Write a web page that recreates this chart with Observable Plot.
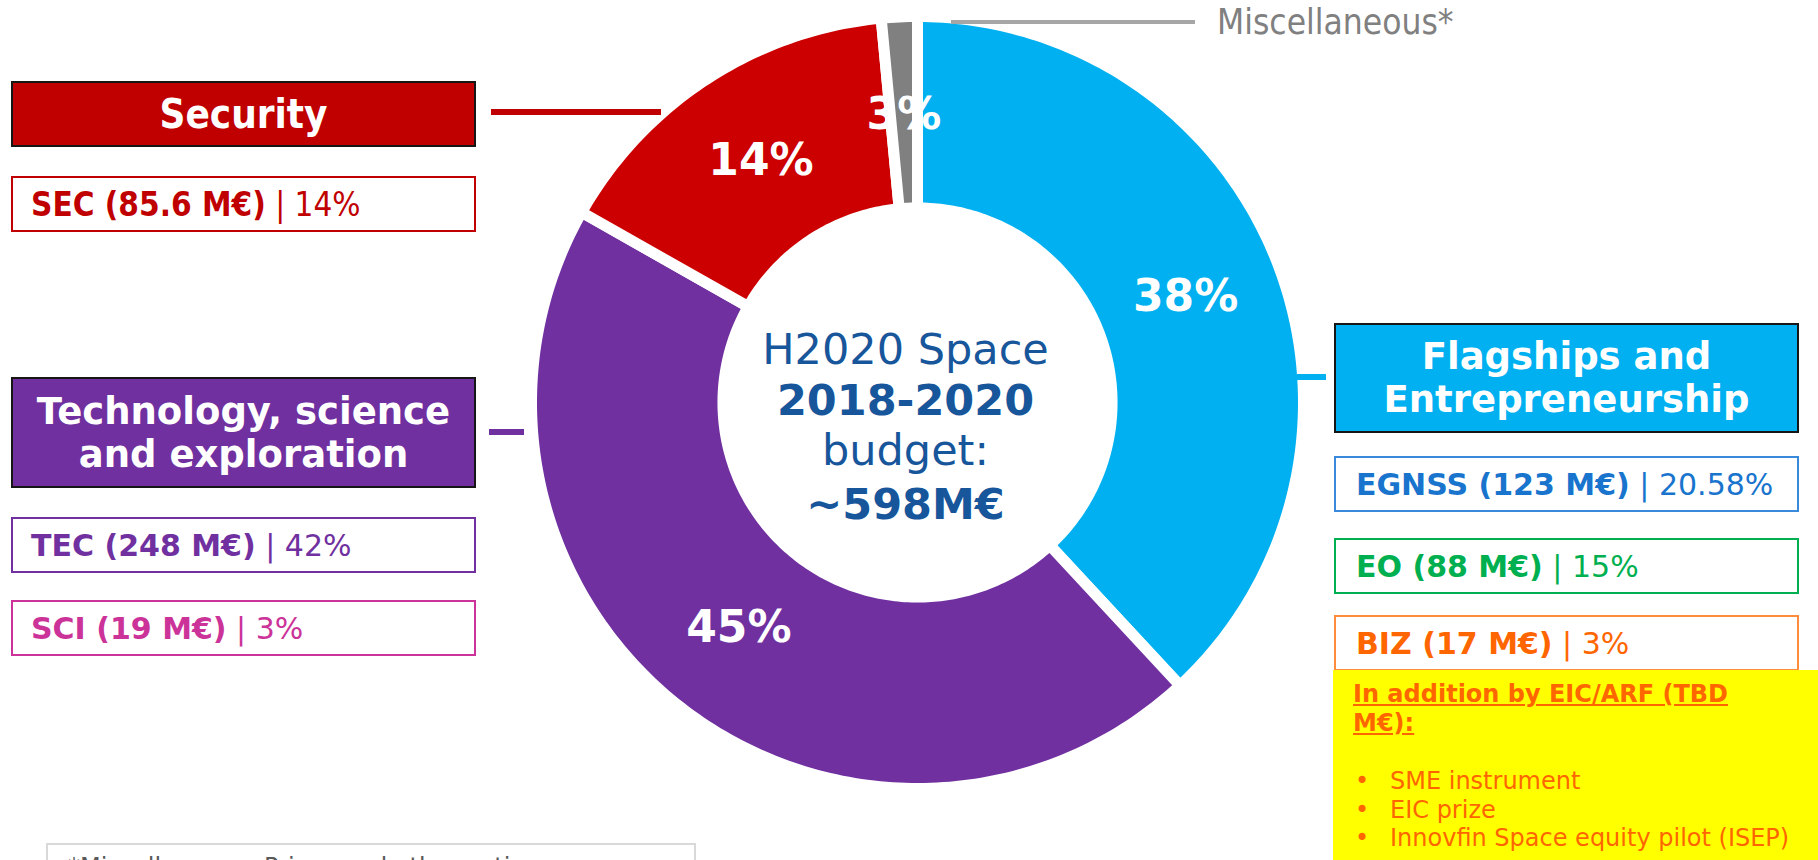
<!DOCTYPE html>
<html><head><meta charset="utf-8">
<script src="https://cdn.jsdelivr.net/npm/d3@7"></script>
<script src="https://cdn.jsdelivr.net/npm/@observablehq/plot@0.6"></script>
<style>
html,body{margin:0;padding:0;background:#fff;}
#page{position:relative;width:1818px;height:860px;overflow:hidden;font-family:"DejaVu Sans",Verdana,sans-serif;}
#chart{position:absolute;left:0;top:0;}
.box{position:absolute;box-sizing:border-box;}
.title{display:flex;align-items:center;justify-content:center;text-align:center;color:#fff;font-weight:bold;border:2px solid #161616;}
.item{display:flex;align-items:center;background:#fff;border:2px solid;white-space:nowrap;font-size:30px;}
.cond{font-family:"DejaVu Sans Condensed","DejaVu Sans",Tahoma,sans-serif;font-stretch:condensed;}
.conn{position:absolute;}
.yellow{background:#FFFF00;color:#FF6600;font-size:24px;line-height:29px;padding:10px 0 0 20px;}
.yellow .hd{font-weight:bold;text-decoration:underline;}
.yellow .bl{position:relative;padding-left:37px;line-height:28.5px;}
.yellow .bl span{position:absolute;left:2px;}
.foot{border:2px solid #D9D9D9;font-size:24px;color:#595959;padding:8px 0 0 20px;}
</style></head><body><div id="page"><div id="chart"></div></div>
<script>
// ---- data ----
const slices = ["Flagships and Entrepreneurship", "Technology, science and exploration", "Security", "Miscellaneous"];
const shares = [38.1, 45.1, 15.3, 1.5];          // angular share
const shareLabels = ["38%", "45%", "14%", "3%"];
const sliceColors = ["#00B0F0", "#7030A0", "#CC0000", "#808080"];
const centerLines = ["H2020 Space", "2018-2020", "budget:", "~598M€"];
const secCodes = ["SEC"], secBudgets = ["85.6"], secShares = ["14%"];
const tecCodes = ["TEC", "SCI"], tecBudgets = ["248", "19"], tecShares = ["42%", "3%"];
const flagCodes = ["EGNSS", "EO", "BIZ"], flagBudgets = ["123", "88", "17"], flagShares = ["20.58%", "15%", "3%"];
const eicHeader = ["In addition by EIC/ARF (TBD", "M€):"];
const eicItems = ["SME instrument", "EIC prize", "Innovfin Space equity pilot (ISEP)"];
const footnote = "*Miscellaneous: Prizes and other actions";

// ---- layout ----
const cx = 917, cy = 402, R = 386, INNER = 0.504, LABEL_R = 0.746, GAP = 11;
const centerDy = [-52, -1, 49, 103];
const centerWeights = ["normal", "bold", "normal", "bold"];

const arcs = d3.pie().sort(null).value(d => d)(shares);
const ringPts = arcs.flatMap((a, i) => {
  const n = Math.max(8, Math.ceil((a.endAngle - a.startAngle) * 60));
  const ts = d3.range(n + 1).map(k => a.startAngle + (a.endAngle - a.startAngle) * k / n);
  return [
    ...ts.map(t => ({name: slices[i], x: Math.sin(t), y: Math.cos(t)})),
    ...ts.slice().reverse().map(t => ({name: slices[i], x: INNER * Math.sin(t), y: INNER * Math.cos(t)}))
  ];
});
const labelPts = arcs.map((a, i) => {
  const m = (a.startAngle + a.endAngle) / 2;
  return {label: shareLabels[i], x: LABEL_R * Math.sin(m), y: LABEL_R * Math.cos(m)};
});

const chart = Plot.plot({
  width: 1818, height: 860, margin: 0,
  x: {domain: [-1, 1], range: [cx - R, cx + R], axis: null},
  y: {domain: [-1, 1], range: [cy + R, cy - R], axis: null},
  color: {domain: slices, range: sliceColors},
  style: {background: "transparent", fontFamily: "'DejaVu Sans', Verdana, sans-serif", overflow: "visible"},
  marks: [
    Plot.line(ringPts, {x: "x", y: "y", z: "name", fill: "name", stroke: "white", strokeWidth: GAP, curve: "linear-closed", strokeLinejoin: "round"}),
    Plot.text(labelPts, {x: "x", y: "y", text: "label", fill: "white", fontSize: 44, fontWeight: "bold"}),
    ...centerLines.map((t, i) => Plot.text([t], {x: () => 0, y: () => 0, text: d => d, dx: -12, dy: centerDy[i], fontSize: 43, fontWeight: centerWeights[i], fill: "#17569B"}))
  ]
});
document.getElementById("chart").appendChild(chart);

// ---- annotation boxes ----
const page = document.getElementById("page");
function add(cls, style, html) {
  const d = document.createElement("div");
  d.className = cls;
  Object.assign(d.style, style);
  d.innerHTML = html;
  page.appendChild(d);
  return d;
}
const px = v => v + "px";
function box(cls, l, t, w, h, extra, html) {
  return add(cls, Object.assign({left: px(l), top: px(t), width: px(w), height: px(h)}, extra), html);
}
// connectors
box("conn", 491, 109, 170, 6, {background: "#C00000"}, "");
box("conn", 489, 429, 35, 6, {background: "#7030A0"}, "");
box("conn", 1297, 374, 29, 6, {background: "#00B0F0"}, "");
box("conn", 951, 20, 244, 4, {background: "#A6A6A6"}, "");
add("box cond", {left: "1217px", top: "4px", fontSize: "35px", lineHeight: "36px", color: "#808080"}, "Miscellaneous*");

// titles
box("box title cond", 11, 81, 465, 66, {background: "#C00000", fontSize: "40px"}, "Security");
box("box title", 11, 377, 465, 111, {background: "#7030A0", fontSize: "37px", lineHeight: "43px"}, "Technology, science<br>and exploration");
box("box title", 1334, 323, 465, 110, {background: "#00B0F0", fontSize: "37px", lineHeight: "43px"}, "Flagships and<br>Entrepreneurship");

// items
const itemHtml = (c, b, s) => `<b>${c} (${b} M€)</b>&nbsp;| ${s}`;
const secTops = [176];
secCodes.forEach((c, i) => box("box item cond", 11, secTops[i], 465, 56, {color: "#C00000", borderColor: "#C00000", paddingLeft: "18px", fontSize: "33px"}, itemHtml(c, secBudgets[i], secShares[i])));
const tecTops = [517, 600], tecCols = ["#7030A0", "#CC3399"];
tecCodes.forEach((c, i) => box("box item", 11, tecTops[i], 465, 56, {color: tecCols[i], borderColor: tecCols[i], paddingLeft: "18px"}, itemHtml(c, tecBudgets[i], tecShares[i])));
const flagTops = [456, 538, 615], flagCols = ["#1874CD", "#00B050", "#FF6600"], flagBorders = ["#3A8ADC", "#00B050", "#FF8C3C"];
flagCodes.forEach((c, i) => box("box item", 1334, flagTops[i], 465, 56, {color: flagCols[i], borderColor: flagBorders[i], paddingLeft: "20px"}, itemHtml(c, flagBudgets[i], flagShares[i])));

// EIC box
box("box yellow", 1333, 670, 485, 190, {}, 
  `<div class="hd">${eicHeader.join("<br>")}</div><div style="height:29px"></div>` +
  eicItems.map(t => `<div class="bl"><span>•</span>${t}</div>`).join(""));

// footnote
box("box foot", 46, 843, 650, 60, {}, footnote);
</script></body></html>
